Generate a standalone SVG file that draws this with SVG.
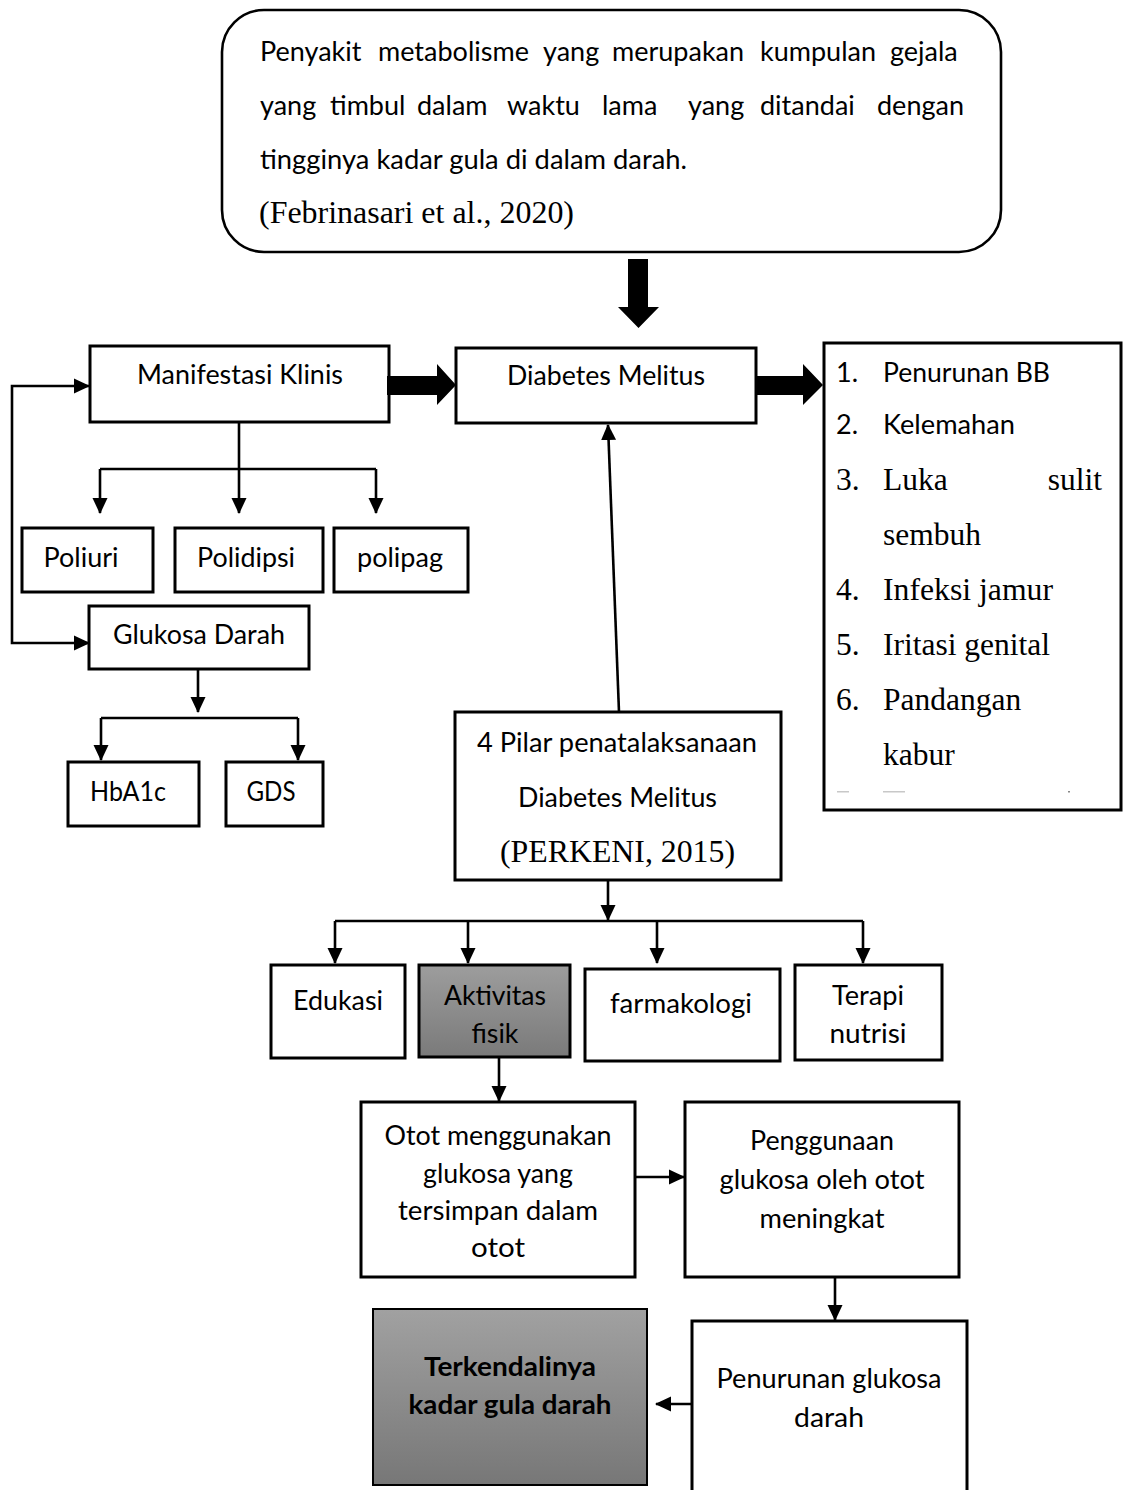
<svg xmlns="http://www.w3.org/2000/svg" width="1123" height="1490" viewBox="0 0 1123 1490">
<style>
.box{fill:#fff;stroke:#000;stroke-width:3}
.ln{fill:none;stroke:#000;stroke-width:2.6}
.arr{fill:none;stroke:#000;stroke-width:2.6;marker-end:url(#ah)}
.blk{fill:#000;stroke:none}
.t{font-family:Lato,"Liberation Sans",sans-serif;font-size:27px;fill:#000}
.c{text-anchor:middle}
.b{font-weight:bold}
.tr{font-family:"Liberation Serif","Times New Roman",serif;font-size:31.5px;fill:#000}
</style>
<defs>
<marker id="ah" markerUnits="userSpaceOnUse" markerWidth="16" markerHeight="16" viewBox="0 0 16 16" refX="15" refY="8" orient="auto-start-reverse">
<path d="M0,0.5 L16,8 L0,15.5 z" fill="#000"/>
</marker>
<linearGradient id="g1" x1="0" y1="0" x2="0" y2="1">
<stop offset="0" stop-color="#9d9d9d"/>
<stop offset="1" stop-color="#7a7a7a"/>
</linearGradient>
<linearGradient id="g2" x1="0" y1="0" x2="0" y2="1">
<stop offset="0" stop-color="#a1a1a1"/>
<stop offset="1" stop-color="#777777"/>
</linearGradient>
</defs>
<rect width="1123" height="1490" fill="#fff"/>

<g id="definition">
<rect x="222" y="10" width="779" height="242" rx="42" ry="42" fill="#fff" stroke="#000" stroke-width="2.6"/>
<text class="t" y="61"><tspan x="260">Penyakit</tspan><tspan x="378">metabolisme</tspan><tspan x="543">yang</tspan><tspan x="612">merupakan</tspan><tspan x="760">kumpulan</tspan><tspan x="890">gejala</tspan></text>
<text class="t" y="115"><tspan x="260">yang</tspan><tspan x="330">timbul</tspan><tspan x="417">dalam</tspan><tspan x="507">waktu</tspan><tspan x="602">lama</tspan><tspan x="688">yang</tspan><tspan x="760">ditandai</tspan><tspan x="877">dengan</tspan></text>
<text class="t" x="260" y="169" textLength="427" lengthAdjust="spacingAndGlyphs">tingginya kadar gula di dalam darah.</text>
<text class="tr" x="259" y="223" textLength="315" lengthAdjust="spacingAndGlyphs">(Febrinasari et al., 2020)</text>
</g>

<g id="manifestasi">
<rect class="box" x="90" y="346" width="299" height="76"/>
<text class="t c" x="240" y="384" textLength="206" lengthAdjust="spacingAndGlyphs">Manifestasi Klinis</text>
</g>

<g id="dm">
<rect class="box" x="456" y="348" width="300" height="75"/>
<text class="t c" x="606" y="385" textLength="198" lengthAdjust="spacingAndGlyphs">Diabetes Melitus</text>
</g>

<g id="gejala">
<rect class="box" x="824" y="343" width="297" height="467"/>
<text class="t" x="836" y="382">1.</text>
<text class="t" x="883" y="382" textLength="167" lengthAdjust="spacingAndGlyphs">Penurunan BB</text>
<text class="t" x="836" y="434">2.</text>
<text class="t" x="883" y="434" textLength="132" lengthAdjust="spacingAndGlyphs">Kelemahan</text>
<text class="tr" x="836" y="490">3.</text>
<text class="tr" x="883" y="490">Luka</text>
<text class="tr" x="1102" y="490" text-anchor="end">sulit</text>
<text class="tr" x="883" y="545">sembuh</text>
<text class="tr" x="836" y="600">4.</text>
<text class="tr" x="883" y="600" textLength="170" lengthAdjust="spacingAndGlyphs">Infeksi jamur</text>
<text class="tr" x="836" y="655">5.</text>
<text class="tr" x="883" y="655" textLength="167" lengthAdjust="spacingAndGlyphs">Iritasi genital</text>
<text class="tr" x="836" y="710">6.</text>
<text class="tr" x="883" y="710">Pandangan</text>
<text class="tr" x="883" y="765">kabur</text>
<rect x="837" y="791" width="12" height="1.5" fill="#c8c8c8"/>
<rect x="883" y="791" width="22" height="1.5" fill="#c8c8c8"/>
<rect x="1068" y="791" width="2" height="1.5" fill="#888"/>
</g>

<g id="poliuri">
<rect class="box" x="22" y="528" width="131" height="64"/>
<text class="t c" x="81" y="567" textLength="75" lengthAdjust="spacingAndGlyphs">Poliuri</text>
</g>
<g id="polidipsi">
<rect class="box" x="175" y="528" width="148" height="64"/>
<text class="t c" x="246" y="567" textLength="98" lengthAdjust="spacingAndGlyphs">Polidipsi</text>
</g>
<g id="polipag">
<rect class="box" x="334" y="528" width="134" height="64"/>
<text class="t c" x="400" y="567" textLength="86" lengthAdjust="spacingAndGlyphs">polipag</text>
</g>

<g id="glukosa">
<rect class="box" x="89" y="606" width="220" height="63"/>
<text class="t c" x="199" y="644" textLength="172" lengthAdjust="spacingAndGlyphs">Glukosa Darah</text>
</g>
<g id="hba1c">
<rect class="box" x="68" y="762" width="131" height="64"/>
<text class="t c" x="128" y="801" textLength="76" lengthAdjust="spacingAndGlyphs">HbA1c</text>
</g>
<g id="gds">
<rect class="box" x="226" y="762" width="97" height="64"/>
<text class="t c" x="271" y="801" textLength="49" lengthAdjust="spacingAndGlyphs">GDS</text>
</g>

<g id="pilar">
<rect class="box" x="455" y="712" width="326" height="168"/>
<text class="t c" x="617" y="752" textLength="280" lengthAdjust="spacingAndGlyphs">4 Pilar penatalaksanaan</text>
<text class="t c" x="617.5" y="807" textLength="199" lengthAdjust="spacingAndGlyphs">Diabetes Melitus</text>
<text class="tr c" x="617.5" y="862" textLength="235" lengthAdjust="spacingAndGlyphs">(PERKENI, 2015)</text>
</g>

<g id="edukasi">
<rect class="box" x="271" y="965" width="134" height="93"/>
<text class="t c" x="338" y="1010" textLength="90" lengthAdjust="spacingAndGlyphs">Edukasi</text>
</g>
<g id="aktivitas">
<rect x="419" y="965" width="151" height="92" fill="url(#g1)" stroke="#000" stroke-width="3"/>
<text class="t c" x="495" y="1005" textLength="102" lengthAdjust="spacingAndGlyphs">Aktivitas</text>
<text class="t c" x="495" y="1043" textLength="47" lengthAdjust="spacingAndGlyphs">fisik</text>
</g>
<g id="farmakologi">
<rect class="box" x="585" y="969" width="195" height="92"/>
<text class="t c" x="681" y="1013" textLength="142" lengthAdjust="spacingAndGlyphs">farmakologi</text>
</g>
<g id="terapi">
<rect class="box" x="795" y="965" width="147" height="95"/>
<text class="t c" x="868" y="1005" textLength="72" lengthAdjust="spacingAndGlyphs">Terapi</text>
<text class="t c" x="868" y="1043" textLength="77" lengthAdjust="spacingAndGlyphs">nutrisi</text>
</g>

<g id="otot">
<rect class="box" x="361" y="1102" width="274" height="175"/>
<text class="t c" x="498" y="1145" textLength="227" lengthAdjust="spacingAndGlyphs">Otot menggunakan</text>
<text class="t c" x="498" y="1183" textLength="150" lengthAdjust="spacingAndGlyphs">glukosa yang</text>
<text class="t c" x="498" y="1220" textLength="200" lengthAdjust="spacingAndGlyphs">tersimpan dalam</text>
<text class="t c" x="498" y="1257" textLength="54" lengthAdjust="spacingAndGlyphs">otot</text>
</g>
<g id="penggunaan">
<rect class="box" x="685" y="1102" width="274" height="175"/>
<text class="t c" x="822" y="1150" textLength="144" lengthAdjust="spacingAndGlyphs">Penggunaan</text>
<text class="t c" x="822" y="1189" textLength="205" lengthAdjust="spacingAndGlyphs">glukosa oleh otot</text>
<text class="t c" x="822" y="1228" textLength="125" lengthAdjust="spacingAndGlyphs">meningkat</text>
</g>

<g id="terkendali">
<rect x="373" y="1309" width="274" height="176" fill="url(#g2)" stroke="#000" stroke-width="2"/>
<text class="t c b" x="510" y="1376" textLength="172" lengthAdjust="spacingAndGlyphs">Terkendalinya</text>
<text class="t c b" x="510" y="1414" textLength="203" lengthAdjust="spacingAndGlyphs">kadar gula darah</text>
</g>
<g id="penurunan">
<rect class="box" x="692" y="1321" width="275" height="190"/>
<text class="t c" x="829" y="1388" textLength="225" lengthAdjust="spacingAndGlyphs">Penurunan glukosa</text>
<text class="t c" x="829" y="1427" textLength="70" lengthAdjust="spacingAndGlyphs">darah</text>
</g>

<g id="connectors">
<polygon class="blk" points="628,259 648,259 648,307 659,307 638.5,328 618,307 628,307"/>
<polygon class="blk" points="387,376 437,376 437,364 456,385 437,405 437,395 387,395"/>
<polygon class="blk" points="756,376 803,376 803,364 823,385 803,405 803,395 756,395"/>
<path class="ln" d="M239,422 V469 M100,469 H376"/>
<path class="arr" d="M100,469 V513"/>
<path class="arr" d="M239,469 V513"/>
<path class="arr" d="M376,469 V513"/>
<path class="ln" d="M89,643 H12 V386 H89" marker-start="url(#ah)" marker-end="url(#ah)"/>
<path class="arr" d="M198,669 V712"/>
<path class="ln" d="M101,718 H298"/>
<path class="arr" d="M101,718 V760"/>
<path class="arr" d="M298,718 V760"/>
<path class="arr" d="M619,712 L608,425"/>
<path class="arr" d="M608,880 V920"/>
<path class="ln" d="M335,921 H863"/>
<path class="arr" d="M335,921 V963"/>
<path class="arr" d="M468,921 V963"/>
<path class="arr" d="M657,921 V963"/>
<path class="arr" d="M863,921 V963"/>
<path class="arr" d="M499,1057 V1101"/>
<path class="arr" d="M635,1177 H684"/>
<path class="arr" d="M835,1277 V1320"/>
<path class="arr" d="M692,1404 H656"/>
</g>
</svg>
